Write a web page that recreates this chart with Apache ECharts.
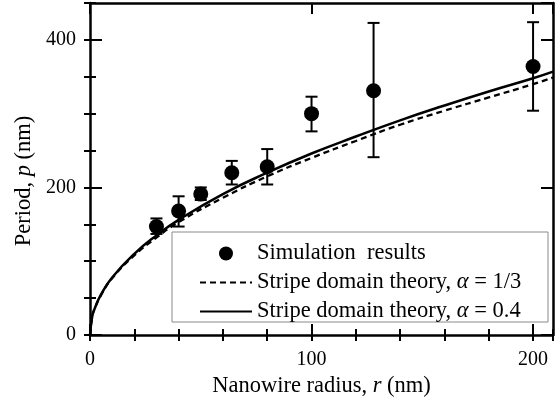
<!DOCTYPE html>
<html>
<head>
<meta charset="utf-8">
<script src="https://cdn.jsdelivr.net/npm/echarts@6/dist/echarts.min.js"></script>
<style>
  html, body { margin: 0; padding: 0; background: #fff; }
  #chart { width: 557px; height: 413px; }
</style>
</head>
<body>
<div id="chart"></div>
<script>
// simulation results (radius in nm, period in nm, error bar ends)
const radius = [30, 40, 50, 64, 80, 100, 128, 200]
const period = [147, 168, 191, 220, 228, 300, 331, 364]
const periodLow = [137, 147, 183, 204, 204, 276, 241, 304]
const periodHigh = [158, 188, 200, 236, 252, 323, 423, 424]

// theory curves
const curveR = [0, 1, 2, 5, 10, 20, 30, 40, 60, 80, 100, 120, 140, 160, 180, 200, 209]
const theoryThird = [0, 25, 35, 54, 77, 108, 132, 153, 186, 215, 240, 263, 285, 304, 322, 340, 349]
const theoryPoint4 = [0, 25, 35, 55, 78, 110, 135, 156, 191, 220, 246, 269, 291, 311, 330, 348, 357]

const xTicks = [0, 100, 200]
const yTicks = [0, 200, 400]

const FONT = 'Liberation Serif'
const chart = echarts.init(document.getElementById('chart'))

const simData = radius.map((r, i) => [r, period[i]])
const errData = radius.map((r, i) => [r, periodLow[i], periodHigh[i]])
const thirdData = curveR.map((r, i) => [r, theoryThird[i]])
const point4Data = curveR.map((r, i) => [r, theoryPoint4[i]])

const axisLine = { show: true, onZero: false, lineStyle: { color: '#000', width: 2.5 } }

function xAx(pos, major, withLabel) {
  return {
    type: 'value', position: pos, min: 0, max: 209,
    interval: major ? 100 : 20,
    axisLine: major ? axisLine : { show: false },
    axisTick: { show: true, inside: true, length: major ? 11 : 6, lineStyle: { color: '#000', width: 2 } },
    axisLabel: withLabel ? {
      show: true, fontFamily: FONT, fontSize: 20, color: '#000', margin: 15,
      showMaxLabel: false,
      formatter: v => xTicks.includes(v) ? String(v) : ''
    } : { show: false },
    splitLine: { show: false }
  }
}
function yAx(pos, major, withLabel) {
  return {
    type: 'value', position: pos, min: 0, max: 450,
    interval: major ? 200 : 50,
    axisLine: major ? axisLine : { show: false },
    axisTick: { show: true, inside: true, length: major ? 12 : 6, lineStyle: { color: '#000', width: 2 } },
    axisLabel: withLabel ? {
      show: true, fontFamily: FONT, fontSize: 20, color: '#000', margin: 14,
      showMaxLabel: false,
      formatter: v => yTicks.includes(v) ? String(v) : ''
    } : { show: false },
    splitLine: { show: false }
  }
}

const titleStyle = {
  fontFamily: FONT, fontSize: 22.5, color: '#000',
  rich: { i: { fontFamily: FONT, fontSize: 22.5, fontStyle: 'italic', color: '#000' } }
}

const xMain = xAx('bottom', true, true)
xMain.name = 'Nanowire radius, {i|r} (nm)'
xMain.nameLocation = 'middle'
xMain.nameGap = 38
xMain.nameTextStyle = titleStyle
const yMain = yAx('left', true, true)
yMain.name = 'Period, {i|p} (nm)'
yMain.nameLocation = 'middle'
yMain.nameGap = 49
yMain.nameTextStyle = Object.assign({}, titleStyle, { padding: [0, 24, 0, 0] })

const hideDot = { opacity: 0 }

const option = {
  animation: false,
  backgroundColor: '#fff',
  grid: { left: 90, right: 4, top: 3, bottom: 78 },
  xAxis: [xMain, xAx('bottom', false, false), xAx('top', true, false), xAx('top', false, false)],
  yAxis: [yMain, yAx('left', false, false), yAx('right', true, false), yAx('right', false, false)],
  graphic: [{
    type: 'rect', z: 3,
    shape: { x: 172, y: 232, width: 376, height: 90 },
    style: { fill: '#fff', stroke: '#8a8a8a', lineWidth: 1 }
  }],
  legend: {
    orient: 'vertical', left: 199, top: 242, padding: 0,
    itemWidth: 52, itemHeight: 14, itemGap: 6,
    z: 5,
    data: [
      { name: 'Simulation  results' },
      { name: 'Stripe domain theory, α = 1/3', itemStyle: hideDot },
      { name: 'Stripe domain theory, α = 0.4', itemStyle: hideDot }
    ],
    formatter: name => name.replace('α', '{i|α}'),
    textStyle: {
      fontFamily: FONT, fontSize: 22.5, color: '#000', lineHeight: 22,
      rich: { i: { fontFamily: FONT, fontSize: 22.5, fontStyle: 'italic', color: '#000', lineHeight: 22 } }
    }
  },
  series: [
    {
      name: 'errors',
      type: 'custom',
      data: errData,
      encode: { x: 0, y: [1, 2] },
      z: 3,
      renderItem: function (params, api) {
        const x = api.value(0)
        const lo = api.coord([x, api.value(1)])
        const hi = api.coord([x, api.value(2)])
        const cap = 6
        const st = { stroke: '#000', lineWidth: 2 }
        return {
          type: 'group',
          children: [
            { type: 'line', shape: { x1: lo[0], y1: lo[1], x2: hi[0], y2: hi[1] }, style: st },
            { type: 'line', shape: { x1: lo[0] - cap, y1: lo[1], x2: lo[0] + cap, y2: lo[1] }, style: st },
            { type: 'line', shape: { x1: hi[0] - cap, y1: hi[1], x2: hi[0] + cap, y2: hi[1] }, style: st }
          ]
        }
      }
    },
    {
      name: 'Stripe domain theory, α = 1/3',
      type: 'line',
      data: thirdData,
      smooth: true,
      symbol: 'none',
      z: 2,
      lineStyle: { color: '#000', width: 2.3, type: [6, 4] },
      itemStyle: { color: '#000' }
    },
    {
      name: 'Stripe domain theory, α = 0.4',
      type: 'line',
      data: point4Data,
      smooth: true,
      symbol: 'none',
      z: 2,
      lineStyle: { color: '#000', width: 2.5 },
      itemStyle: { color: '#000' }
    },
    {
      name: 'Simulation  results',
      type: 'scatter',
      data: simData,
      symbol: 'circle',
      symbolSize: 15,
      z: 4,
      itemStyle: { color: '#000', opacity: 1 }
    }
  ]
}

chart.setOption(option)
</script>
</body>
</html>
